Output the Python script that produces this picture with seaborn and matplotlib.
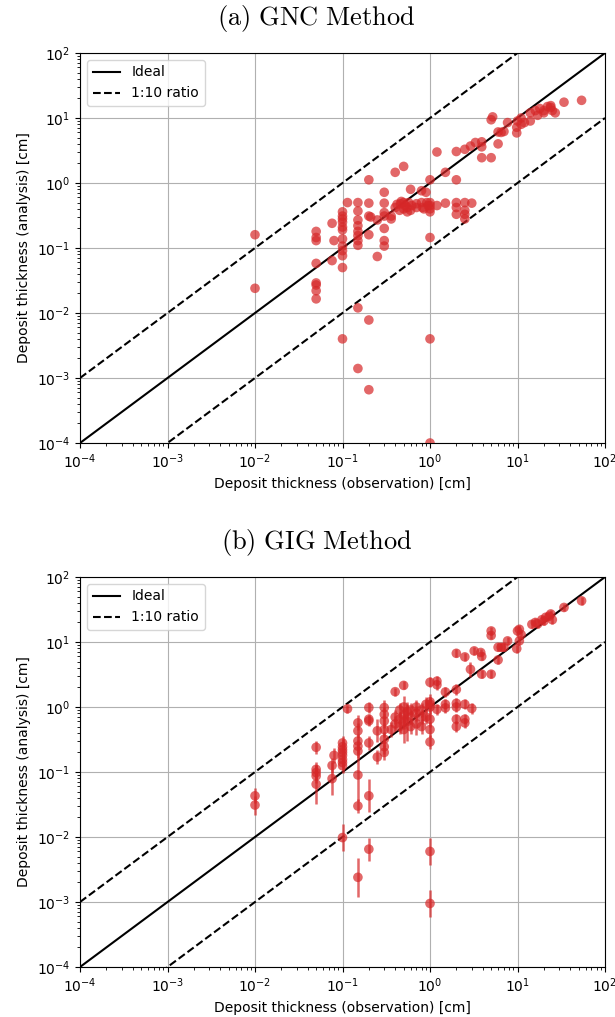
import numpy as np
import pandas as pd
import matplotlib
matplotlib.use("Agg")
import matplotlib.pyplot as plt
import seaborn as sns

plt.rcParams['mathtext.fontset'] = 'cm'

# ---------------- Data: (a) GNC method ----------------
gnc_obs = [0.01, 0.01,
           0.05, 0.05, 0.05, 0.05, 0.05, 0.05, 0.05, 0.05,
           0.076, 0.076, 0.08,
           0.1, 0.1, 0.1, 0.1, 0.1, 0.1, 0.1, 0.1, 0.1, 0.1, 0.1, 0.1,
           0.114,
           0.15, 0.15, 0.15, 0.15, 0.15, 0.15, 0.15, 0.15, 0.15, 0.15,
           0.2, 0.2, 0.2, 0.21, 0.2, 0.2, 0.2,
           0.25, 0.25,
           0.3, 0.3, 0.3, 0.3, 0.3, 0.3, 0.3,
           0.36, 0.36,
           0.4, 0.4, 0.42,
           0.45, 0.46, 0.47,
           0.5, 0.5, 0.52, 0.5, 0.55,
           0.55, 0.57,
           0.6, 0.62, 0.6,
           0.7, 0.7,
           0.8, 0.8, 0.82, 0.85,
           0.9, 0.92, 0.95,
           1.0, 1.0, 1.0, 1.0, 1.0, 1.0, 1.0, 1.0,
           1.2, 1.2,
           1.5, 1.5,
           2.0, 2.0, 2.0, 2.0, 2.0,
           2.5, 2.5, 2.5, 2.5, 2.5,
           2.9, 3.0, 3.3,
           3.9, 3.9, 3.9,
           5.0, 5.0, 5.2,
           6.0, 6.0, 6.5, 7.0, 7.7,
           9.8, 9.8, 10.0, 11.0, 11.0, 12.0,
           14.0, 14.0, 16.0, 17.0, 18.0, 20.0, 20.0, 22.0, 24.0, 24.0, 25.0, 27.0,
           34.0, 54.0]
gnc_ana = [0.16, 0.024,
           0.18, 0.145, 0.13, 0.058, 0.029, 0.027, 0.022, 0.0165,
           0.24, 0.064, 0.13,
           0.36, 0.31, 0.28, 0.25, 0.21, 0.19, 0.138, 0.107, 0.091, 0.076, 0.05, 0.004,
           0.5,
           0.5, 0.37, 0.27, 0.22, 0.18, 0.155, 0.13, 0.11, 0.012, 0.0014,
           1.12, 0.49, 0.31, 0.30, 0.16, 0.0078, 0.00066,
           0.27, 0.074,
           0.72, 0.49, 0.35, 0.31, 0.2, 0.13, 0.107,
           0.31, 0.28,
           1.46, 0.42, 0.47,
           0.38, 0.48, 0.52,
           1.8, 0.5, 0.45, 0.40, 0.36,
           0.42, 0.5,
           0.8, 0.45, 0.38,
           0.48, 0.42,
           0.76, 0.5, 0.42, 0.4,
           0.72, 0.5, 0.45,
           1.12, 0.5, 0.45, 0.40, 0.36, 0.145, 0.004, 0.0001,
           3.0, 0.45,
           1.46, 0.49,
           3.05, 1.12, 0.5, 0.42, 0.33,
           3.3, 0.5, 0.38, 0.33, 0.28,
           3.7, 0.49, 4.2,
           3.6, 4.3, 2.45,
           2.45, 9.4, 10.4,
           4.0, 6.1, 6.0, 6.2, 8.5,
           5.9, 7.2, 9.0, 8.0, 10.0, 8.5,
           9.0, 12.0, 13.0, 11.0, 14.0, 13.0, 12.0, 15.0, 14.5, 15.5, 13.0, 12.0,
           17.5, 18.7]

# ---------------- Data: (b) GIG method ----------------
gig_obs = [0.01, 0.01,
           0.05, 0.05, 0.05, 0.05, 0.05,
           0.076, 0.076, 0.08,
           0.1, 0.1, 0.1, 0.1, 0.1, 0.1, 0.1, 0.1, 0.1,
           0.114,
           0.15, 0.15, 0.15, 0.15, 0.15, 0.15, 0.15, 0.15,
           0.2, 0.2, 0.2, 0.2, 0.2, 0.2,
           0.25, 0.25,
           0.3, 0.3, 0.3, 0.3, 0.3, 0.3, 0.3,
           0.36,
           0.4, 0.4, 0.4,
           0.45, 0.45, 0.45,
           0.5, 0.5, 0.5, 0.5, 0.5,
           0.55, 0.55,
           0.6, 0.6, 0.6,
           0.7, 0.7, 0.7,
           0.8, 0.8, 0.8,
           0.9, 0.9,
           1.0, 1.0, 1.0, 1.0, 1.0, 1.0, 1.0, 1.0, 1.0,
           1.2, 1.2, 1.2,
           1.5, 1.5, 1.5,
           2.0, 2.0, 2.0, 2.0, 2.0, 2.0,
           2.5, 2.5, 2.5, 2.5,
           2.9, 3.0, 3.2, 3.8, 3.9, 3.9,
           5.0, 5.0, 5.0,
           6.0, 6.0, 6.5, 7.0, 7.7, 9.8,
           10.0, 10.5, 10.5, 11.0, 14.6,
           16.0, 17.0, 19.0, 20.0, 21.0, 23.0, 24.0, 25.0,
           34.0, 54.0]
gig_ana = [0.043, 0.031,
           0.24, 0.11, 0.098, 0.087, 0.065,
           0.126, 0.079, 0.18,
           0.28, 0.245, 0.22, 0.2, 0.18, 0.156, 0.14, 0.125, 0.0098,
           0.94,
           0.57, 0.43, 0.3, 0.25, 0.21, 0.09, 0.03, 0.0024,
           0.98, 0.65, 0.61, 0.28, 0.043, 0.0065,
           0.43, 0.17,
           0.98, 0.77, 0.61, 0.45, 0.32, 0.245, 0.2,
           0.45,
           1.72, 0.7, 0.55,
           0.9, 0.65, 0.5,
           2.15, 1.0, 0.75, 0.6, 0.45,
           0.6, 0.85,
           0.7, 0.9, 0.5,
           0.55, 0.8, 1.0,
           0.9, 0.5, 0.7,
           1.1, 0.7,
           2.4, 1.2, 1.1, 1.0, 0.65, 0.45, 0.29, 0.006, 0.00095,
           2.2, 2.5, 0.92,
           1.7, 1.1, 0.97,
           6.7, 1.86, 1.14, 1.0, 0.65, 0.5,
           5.9, 1.1, 0.65, 0.57,
           3.8, 0.95, 7.3, 6.9, 6.0, 3.2,
           3.2, 14.8, 12.6,
           5.3, 8.3, 8.3, 8.3, 10.4, 7.9,
           14.8, 15.7, 10.4, 13.0, 18.7,
           20.0, 19.0, 22.0, 21.0, 24.0, 25.0, 27.0, 22.0,
           34.0, 43.0]
# multiplicative spread of the error bar (lower = y/f, upper = y*f)
gig_errf = [1.3, 1.4,
            1.25, 1.3, 1.3, 1.3, 2.0,
            1.3, 1.8, 1.3,
            1.3, 1.3, 1.3, 1.3, 1.3, 1.3, 1.3, 1.3, 1.6,
            1.15,
            1.3, 1.3, 1.3, 1.3, 1.3, 2.5, 1.3, 2.0,
            1.2, 1.2, 1.2, 1.3, 1.8, 1.5,
            1.5, 1.3,
            1.3, 1.3, 1.3, 1.3, 1.3, 1.3, 1.3,
            1.3,
            1.15, 1.3, 1.3,
            1.3, 1.3, 1.3,
            1.15, 1.5, 1.3, 1.3, 1.6,
            2.0, 1.3,
            1.3, 1.3, 1.3,
            1.5, 1.3, 1.3,
            1.3, 1.3, 1.3,
            1.3, 1.3,
            1.2, 1.3, 1.3, 1.3, 1.3, 1.3, 1.3, 1.6, 1.6,
            1.2, 1.2, 1.2,
            1.2, 1.2, 1.2,
            1.15, 1.2, 1.2, 1.2, 1.2, 1.2,
            1.15, 1.2, 1.2, 1.2,
            1.3, 1.2, 1.15, 1.15, 1.15, 1.15,
            1.15, 1.15, 1.15,
            1.15, 1.15, 1.15, 1.15, 1.15, 1.15,
            1.15, 1.15, 1.15, 1.15, 1.15,
            1.15, 1.15, 1.15, 1.15, 1.15, 1.15, 1.15, 1.15,
            1.15, 1.15]

lims = [1e-4, 1e2]
red = '#d62728'

fig = plt.figure(figsize=(6.15, 10.17), dpi=100)
ax_a = fig.add_axes([80/615, 1-443/1017, 525/615, 390/1017])
ax_b = fig.add_axes([80/615, 1-967/1017, 525/615, 390/1017])

df_a = pd.DataFrame({'obs': gnc_obs, 'ana': gnc_ana})
df_b = pd.DataFrame({'obs': gig_obs, 'ana': gig_ana, 'f': gig_errf})

def base(ax):
    ax.set_xscale('log')
    ax.set_yscale('log')
    ax.plot(lims, lims, color='black', lw=1.5, label='Ideal', zorder=2)
    ax.plot(lims, [l * 10 for l in lims], color='black', lw=1.5, ls='--',
            label='1:10 ratio', zorder=2)
    ax.plot(lims, [l / 10 for l in lims], color='black', lw=1.5, ls='--', zorder=2)
    ax.set_xlim(lims)
    ax.set_ylim(lims)
    ax.grid(True, which='major', color='#b0b0b0', lw=0.8)
    ax.set_axisbelow(True)
    ax.set_xlabel('Deposit thickness (observation) [cm]', fontsize=10)
    ax.set_ylabel('Deposit thickness (analysis) [cm]', fontsize=10)
    ax.legend(loc='upper left', fontsize=10)

base(ax_a)
sns.scatterplot(data=df_a, x='obs', y='ana', ax=ax_a, color=red, alpha=0.7,
                s=48, edgecolor='none', zorder=3, legend=False)

base(ax_b)
lo = df_b['ana'] - df_b['ana'] / df_b['f']
hi = df_b['ana'] * df_b['f'] - df_b['ana']
ax_b.errorbar(df_b['obs'], df_b['ana'], yerr=[lo, hi], fmt='none',
              ecolor=red, alpha=0.7, elinewidth=1.8, zorder=3)
sns.scatterplot(data=df_b, x='obs', y='ana', ax=ax_b, color=red, alpha=0.7,
                s=48, edgecolor='none', zorder=4, legend=False)
for ax in (ax_a, ax_b):
    ax.set_xlim(lims)
    ax.set_ylim(lims)
    ax.set_xlabel('Deposit thickness (observation) [cm]', fontsize=10)
    ax.set_ylabel('Deposit thickness (analysis) [cm]', fontsize=10)

fig.text(0.515, 1-18/1017, r'$\mathrm{(a)\ GNC\ Method}$', ha='center', va='center', fontsize=19)
fig.text(0.515, 1-543/1017, r'$\mathrm{(b)\ GIG\ Method}$', ha='center', va='center', fontsize=19)

fig.savefig('out.png', dpi=100)
